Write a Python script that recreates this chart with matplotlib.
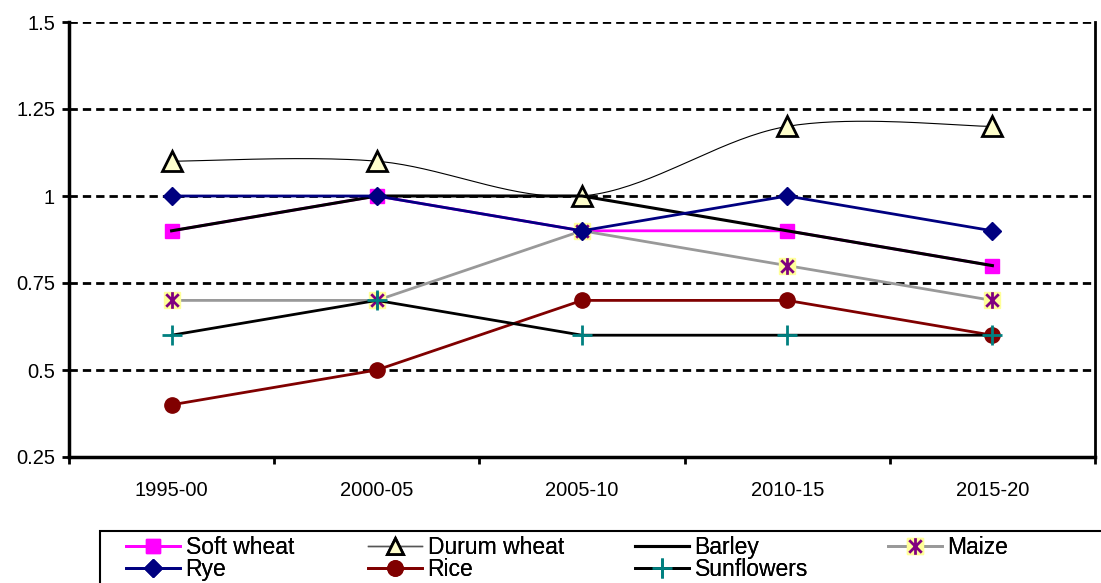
import numpy as np
import matplotlib
matplotlib.use("Agg")
import matplotlib.pyplot as plt
from matplotlib.path import Path

plt.rcParams['font.family'] = ['Liberation Sans', 'DejaVu Sans']

periods = ['1995-00', '2000-05', '2005-10', '2010-15', '2015-20']
soft_wheat = [0.9, 1.0, 0.9, 0.9, 0.8]
durum_wheat = [1.1, 1.1, 1.0, 1.2, 1.2]
barley = [0.9, 1.0, 1.0, 0.9, 0.8]
maize = [0.7, 0.7, 0.9, 0.8, 0.7]
rye = [1.0, 1.0, 0.9, 1.0, 0.9]
rice = [0.4, 0.5, 0.7, 0.7, 0.6]
sunflowers = [0.6, 0.7, 0.6, 0.6, 0.6]


def smooth(y, n=40):
    # Catmull-Rom style bezier, like a smoothed spreadsheet line
    y = np.asarray(y, dtype=float)
    x = np.arange(len(y), dtype=float)
    px = np.concatenate([[x[0]], x, [x[-1]]])
    py = np.concatenate([[y[0]], y, [y[-1]]])
    xs, ys = [], []
    t = np.linspace(0, 1, n)
    for i in range(1, len(px) - 2):
        p0 = np.array([px[i], py[i]])
        p3 = np.array([px[i + 1], py[i + 1]])
        c1 = p0 + (np.array([px[i + 1], py[i + 1]]) - np.array([px[i - 1], py[i - 1]])) / 6
        c2 = p3 - (np.array([px[i + 2], py[i + 2]]) - np.array([px[i], py[i]])) / 6
        b = ((1 - t) ** 3)[:, None] * p0 + (3 * (1 - t) ** 2 * t)[:, None] * c1 \
            + (3 * (1 - t) * t ** 2)[:, None] * c2 + (t ** 3)[:, None] * p3
        xs.append(b[:, 0])
        ys.append(b[:, 1])
    return np.concatenate(xs), np.concatenate(ys)


star = Path([(0, -1), (0, 1), (-0.75, -0.75), (0.75, 0.75), (-0.75, 0.75), (0.75, -0.75)],
            [Path.MOVETO, Path.LINETO, Path.MOVETO, Path.LINETO, Path.MOVETO, Path.LINETO])

fig = plt.figure(figsize=(11.01, 5.83), dpi=100)
ax = fig.add_axes([69 / 1101, 126 / 583, 1026 / 1101, 435 / 583])

x = np.arange(len(periods))

for yv in [0.5, 0.75, 1.0, 1.25, 1.5]:
    ax.axhline(yv, color='black', lw=2, linestyle=(0, (3, 1.8)), zorder=1)

h_soft, = ax.plot(x, soft_wheat, color='#FF00FF', lw=2, marker='s', ms=10,
                  mfc='#FF00FF', mec='#FF00FF', zorder=3)
sx, sy = smooth(durum_wheat)
ax.plot(sx, sy, color='black', lw=0.8, zorder=4)
ax.plot(x, durum_wheat, ls='none', marker='^', ms=14, mfc='#FFFFCC', mec='black', mew=2, zorder=4)
h_durum, = ax.plot([], [], color='#555555', lw=1, marker='^', ms=11, mfc='#FFFFCC', mec='black', mew=2)
h_barley, = ax.plot(x, barley, color='black', lw=2.2, zorder=5)
h_maize1, = ax.plot(x, maize, color='#999999', lw=2, marker='s', ms=11,
                    mfc='#FFFF99', mec='#FFFF99', zorder=6)
h_maize2, = ax.plot(x, maize, ls='none', marker=star, ms=12, mfc='none',
                    mec='#800080', mew=2, zorder=6)
h_rye, = ax.plot(x, rye, color='#000080', lw=2, marker='D', ms=9,
                 mfc='#000080', mec='#000080', zorder=7)
h_rice, = ax.plot(x, rice, color='#800000', lw=2, marker='o', ms=11,
                  mfc='#800000', mec='#800000', zorder=8)
h_sun, = ax.plot(x, sunflowers, color='black', lw=2, marker='+', ms=15,
                 mec='#008080', mew=2, zorder=9)

ax.set_xlim(-0.5, len(periods) - 0.5)
ax.set_ylim(0.25, 1.5)
ax.set_yticks([0.25, 0.5, 0.75, 1.0, 1.25, 1.5])
ax.set_yticklabels(['0.25', '0.5', '0.75', '1', '1.25', '1.5'])
ax.set_xticks(np.arange(-0.5, len(periods), 1.0))
ax.set_xticklabels([])
ax.set_xticks(x, minor=True)
ax.set_xticklabels(periods, minor=True)
ax.tick_params(axis='x', which='minor', length=0, pad=17, labelsize=14.5)
ax.tick_params(axis='x', which='major', direction='out', length=5, width=2)
ax.tick_params(axis='y', direction='out', length=5, width=2, pad=5, labelsize=14.5)

ax.spines['top'].set_visible(False)
for s in ['left', 'bottom']:
    ax.spines[s].set_linewidth(2.5)
ax.spines['right'].set_linewidth(2)

# legend: one column at a time so each sits where the reference has it
columns = [
    ([h_soft, h_rye], ['Soft wheat', 'Rye'], 126),
    ([h_durum, h_rice], ['Durum wheat', 'Rice'], 368),
    ([h_barley, h_sun], ['Barley', 'Sunflowers'], 635),
    ([(h_maize1, h_maize2)], ['Maize'], 888),
]
for hs, labs, xpx in columns:
    leg = fig.legend(hs, labs, ncol=1, loc='upper left', bbox_to_anchor=(xpx / 1101, 47 / 583),
                     frameon=False, fontsize=16.5, borderpad=0, borderaxespad=0,
                     labelspacing=-0.05, handlelength=2.35, handletextpad=0.25)
    fig.add_artist(leg)

fig.add_artist(plt.Rectangle((100 / 1101, -0.1), 1.1, (52 / 583) + 0.1, transform=fig.transFigure,
                             fill=False, edgecolor='black', lw=1.5, clip_on=False))

fig.savefig('out.png', dpi=100)
